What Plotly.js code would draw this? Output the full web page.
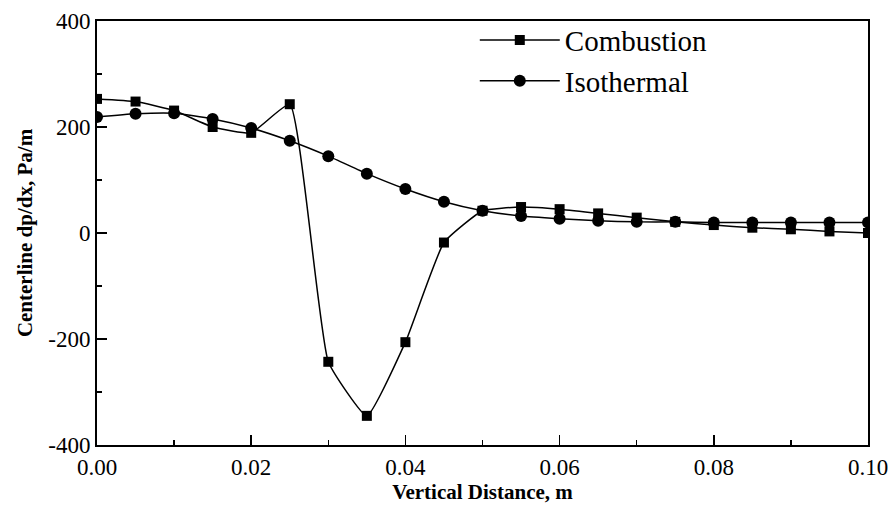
<!DOCTYPE html>
<html>
<head>
<meta charset="utf-8">
<script src="https://cdn.plot.ly/plotly-3.0.1.min.js"></script>
<style>html,body{margin:0;padding:0;background:#fff;}#chart{width:893px;height:516px;}</style>
</head>
<body>
<div id="chart"></div>
<script>
const distance = [0, 0.005, 0.01, 0.015, 0.02, 0.025, 0.03, 0.035, 0.04, 0.045, 0.05, 0.055, 0.06, 0.065, 0.07, 0.075, 0.08, 0.085, 0.09, 0.095, 0.1];
const combustion = [253, 248, 231, 200, 189, 243, -243, -345, -206, -18, 42, 49, 45, 37, 29, 21, 15, 10, 7, 3, 0];
const isothermal = [219, 225, 226, 215, 198, 174, 145, 112, 83, 59, 42, 32, 27, 23, 21, 21, 20, 20, 20, 20, 20];
const xTickVals = [0, 0.02, 0.04, 0.06, 0.08, 0.1];
const xTickText = ["0.00", "0.02", "0.04", "0.06", "0.08", "0.10"];
const yTickVals = [-400, -200, 0, 200, 400];
const yTickText = ["-400", "-200", "0", "200", "400"];

const font = "Liberation Serif";
const traces = [
  {x: distance, y: combustion, name: "Combustion", mode: "lines+markers",
   line: {color: "#000", width: 1.5, shape: "spline", smoothing: 0.4},
   marker: {symbol: "square", size: 10, color: "#000"}},
  {x: distance, y: isothermal, name: "Isothermal", mode: "lines+markers",
   line: {color: "#000", width: 1.5, shape: "spline", smoothing: 0.5},
   marker: {symbol: "circle", size: 12, color: "#000"}}
];
const axisCommon = {showgrid: false, zeroline: false, showline: true, linecolor: "#000", linewidth: 2,
  mirror: true, ticks: "inside", ticklen: 10, tickwidth: 1.5, tickcolor: "#000",
  tickfont: {family: font, size: 23, color: "#000"}};
const layout = {
  width: 893, height: 516,
  margin: {l: 97, r: 25, t: 21, b: 71},
  paper_bgcolor: "#fff", plot_bgcolor: "#fff",
  font: {family: font, color: "#000"},
  showlegend: true,
  legend: {x: 0.49, y: 1.015, xanchor: "left", yanchor: "top", bgcolor: "rgba(0,0,0,0)",
    font: {family: font, size: 29, color: "#000"}, itemwidth: 80, tracegroupgap: 0},
  xaxis: Object.assign({}, axisCommon, {range: [0, 0.1], tickvals: xTickVals, ticktext: xTickText,
    minor: {ticks: "inside", ticklen: 5, tickwidth: 1.5, tickcolor: "#000", dtick: 0.01, tick0: 0},
    title: {text: "Vertical Distance, m", font: {family: font, size: 21, color: "#000", weight: "bold"}, standoff: 6}}),
  yaxis: Object.assign({}, axisCommon, {range: [-400, 400], tickvals: yTickVals, ticktext: yTickText,
    minor: {ticks: "inside", ticklen: 5, tickwidth: 1.5, tickcolor: "#000", dtick: 100, tick0: 0},
    title: {text: "Centerline dp/dx, Pa/m", font: {family: font, size: 21, color: "#000", weight: "bold"}, standoff: 10}})
};
Plotly.newPlot("chart", traces, layout, {displayModeBar: false, staticPlot: true});
</script>
</body>
</html>
